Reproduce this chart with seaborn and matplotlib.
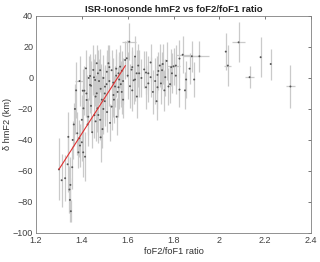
import numpy as np
import pandas as pd
import matplotlib
matplotlib.use("Agg")
import matplotlib.pyplot as plt
import seaborn as sns

# foF2/foF1 ratio vs delta hmF2
ratio = [1.300, 1.312, 1.327, 1.338, 1.341, 1.346, 1.348, 1.350, 1.352, 1.358,
         1.360, 1.365, 1.370, 1.375, 1.380, 1.385, 1.389, 1.390, 1.392, 1.400,
         1.400, 1.404, 1.407, 1.406, 1.411, 1.414, 1.418, 1.421, 1.425, 1.428,
         1.436, 1.436, 1.440, 1.445, 1.450, 1.453, 1.455, 1.458, 1.460, 1.465,
         1.465, 1.468, 1.472, 1.475, 1.480, 1.482, 1.482, 1.487, 1.490, 1.494,
         1.494, 1.500, 1.501, 1.508, 1.509, 1.516, 1.520, 1.523, 1.530, 1.530,
         1.537, 1.538, 1.545, 1.550, 1.552, 1.556, 1.560, 1.563, 1.567, 1.574,
         1.575, 1.580, 1.589, 1.596, 1.600, 1.607, 1.610, 1.617, 1.620, 1.626,
         1.632, 1.632, 1.639, 1.640, 1.646, 1.650, 1.672, 1.680, 1.690, 1.690,
         1.700, 1.700, 1.710, 1.720, 1.726, 1.730, 1.734, 1.740, 1.745, 1.750,
         1.753, 1.764, 1.770, 1.778, 1.785, 1.793, 1.800, 1.810, 1.810, 1.826,
         1.826, 1.840, 1.850, 1.855, 1.870, 1.880, 1.890, 1.913, 2.028, 2.037,
         2.084, 2.132, 2.180, 2.224, 2.310,
         1.420, 1.430, 1.440, 1.460, 1.470, 1.480, 1.500, 1.510, 1.520, 1.540,
         1.550, 1.560, 1.570, 1.580, 1.620, 1.660, 1.680, 1.730, 1.760, 1.790]
dhmf2 = [-59.0, -66.0, -64.7, -55.7, -38.0, -72.0, -78.7, -69.0, -86.0, -57.6,
         -40.0, -30.0, -20.0, -8.0, -35.7, -48.0, -38.9, -2.0, -43.6, -27.0,
         -41.5, -8.2, -19.6, -48.0, -8.2, -50.8, 6.2, -14.2, -30.0, -25.0,
         1.3, -4.5, -18.0, -35.0, 5.2, 0.4, -24.0, -1.3, -12.0, 9.5,
         -9.9, -19.6, -23.9, -2.0, -27.0, -7.0, -38.3, -14.0, -33.0, 0.0,
         -20.0, -10.0, -5.6, -4.0, 4.0, 9.5, -2.0, -29.0, 5.0, -18.5,
         -3.0, -11.0, -5.5, 1.5, -25.0, -9.0, 3.0, -1.0, 7.3, -9.0,
         4.7, -2.0, 11.6, 12.7, 1.5, 23.4, -5.3, 5.4, 7.0, -1.5,
         13.8, -1.0, 3.0, -12.0, 8.0, 3.0, 5.5, 3.5, -3.5, 3.0,
         10.0, 0.5, -9.0, -2.0, -15.0, -6.0, 4.5, 8.0, -3.5, 5.0,
         9.0, 0.5, 11.0, -5.5, -4.0, 3.0, 7.5, 8.0, 1.5, 12.5,
         -7.5, 15.0, -8.0, -1.0, 6.0, 14.0, -1.0, 14.0, 17.0, 8.0,
         23.0, 0.5, 13.4, 9.0, -5.5,
         -10.0, 0.0, -5.0, -28.0, 3.0, 5.0, -15.0, -22.0, 7.0, -14.0,
         6.0, -6.0, -4.0, -14.0, -8.0, 0.0, -6.0, 2.0, -8.0, 7.0]
dh_err = [20, 17, 15, 18, 16, 15, 14, 18, 7, 14,
          12, 14, 16, 18, 14, 10, 12, 16, 14, 16,
          12, 14, 15, 16, 16, 16, 12, 16, 14, 12,
          14, 18, 16, 10, 16, 12, 15, 17, 14, 12,
          16, 15, 18, 14, 13, 16, 16, 15, 12, 15,
          16, 17, 14, 18, 14, 12, 16, 12, 13, 15,
          16, 14, 13, 14, 12, 16, 14, 15, 14, 14,
          13, 15, 12, 12, 15, 12, 14, 12, 13, 15,
          13, 14, 15, 14, 14, 15, 12, 14, 12, 11,
          12, 13, 14, 15, 12, 14, 12, 14, 13, 12,
          13, 12, 12, 12, 12, 13, 12, 13, 12, 12,
          11, 12, 12, 12, 10, 10, 11, 10, 12, 13,
          13, 7, 13, 10, 14,
          15, 14, 16, 13, 15, 14, 16, 13, 14, 15,
          13, 14, 15, 12, 13, 12, 14, 12, 13, 12]
ratio_err = [0, 0, 0, 0, 0, 0, 0, 0, 0, 0,
             0, 0, 0, 0, 0, 0, 0, 0.02, 0, 0,
             0, 0, 0, 0, 0, 0, 0, 0, 0, 0,
             0, 0, 0, 0, 0, 0, 0, 0, 0, 0,
             0, 0, 0, 0, 0, 0, 0, 0, 0, 0,
             0, 0, 0, 0, 0, 0, 0, 0, 0, 0,
             0, 0, 0, 0, 0, 0, 0, 0, 0, 0,
             0, 0, 0, 0, 0, 0.03, 0, 0, 0, 0,
             0, 0, 0, 0, 0, 0, 0, 0, 0, 0,
             0, 0, 0, 0, 0, 0, 0, 0, 0, 0,
             0, 0, 0, 0, 0, 0, 0.03, 0, 0, 0,
             0, 0.03, 0, 0, 0, 0.04, 0, 0.04, 0, 0.015,
             0.03, 0.02, 0, 0, 0.02,
             0, 0, 0, 0, 0, 0, 0, 0, 0, 0,
             0, 0, 0, 0, 0, 0, 0, 0, 0, 0]

# linear fit shown in red
fit_x = [1.30, 1.59]
fit_y = [-59.0, 8.0]

df = pd.DataFrame({"ratio": ratio, "dhmf2": dhmf2, "yerr": dh_err, "xerr": ratio_err})
df_fit = pd.DataFrame({"x": fit_x, "y": fit_y})

sns.set_style("white")
plt.rcParams['font.family'] = ['Liberation Sans', 'DejaVu Sans']

fig = plt.figure(figsize=(3.2, 2.62), dpi=100)
ax = fig.add_axes([0.1125, 0.111, 0.8595, 0.828])

ax.errorbar(df["ratio"], df["dhmf2"], yerr=df["yerr"], xerr=df["xerr"],
            fmt="none", ecolor="#cacaca", elinewidth=0.9, capsize=0, zorder=1)
sns.scatterplot(data=df, x="ratio", y="dhmf2", ax=ax, color="#555555",
                s=2, marker="o", edgecolor="none", zorder=3)
sns.lineplot(data=df_fit, x="x", y="y", ax=ax, color="#e03030", linewidth=0.8, zorder=4)

ax.set_xlim(1.2, 2.4)
ax.set_ylim(-100, 40)
ax.set_xticks([1.2, 1.4, 1.6, 1.8, 2.0, 2.2, 2.4])
ax.set_xticklabels(["1.2", "1.4", "1.6", "1.8", "2", "2.2", "2.4"])
ax.set_yticks([-100, -80, -60, -40, -20, 0, 20, 40])
ax.tick_params(direction="in", length=2.5, width=0.5, labelsize=6.5,
               colors="#404040", top=True, right=True, pad=2)
for s in ax.spines.values():
    s.set_color("#808080")
    s.set_linewidth(0.6)

ax.set_title("ISR-Ionosonde hmF2 vs foF2/foF1 ratio", fontsize=6.8, fontweight="bold",
             color="#202020", pad=3)
ax.set_xlabel("foF2/foF1 ratio", fontsize=6.6, color="#303030", labelpad=2)
ax.set_ylabel("δ hmF2 (km)", fontsize=6.6, color="#303030", labelpad=1)

fig.savefig("out.png", dpi=100)
